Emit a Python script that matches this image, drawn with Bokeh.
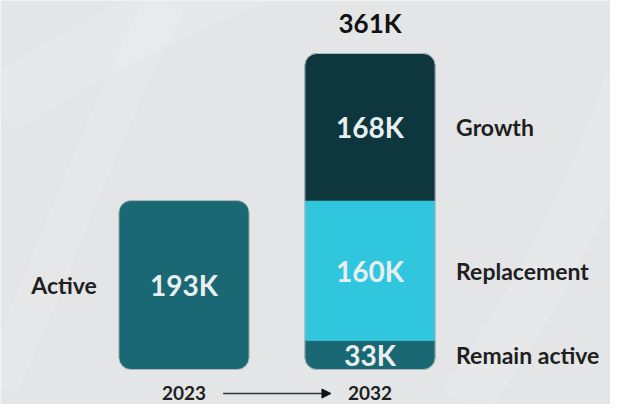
from bokeh.plotting import figure
from bokeh.models import Range1d, Arrow, NormalHead
from bokeh.core.properties import value
from bokeh.embed import file_html
from bokeh.resources import INLINE

# ---- data ----
years = ["2023", "2032"]
active_2023 = 193          # thousands
segments = ["Remain active", "Replacement", "Growth"]
segment_values = [33, 160, 168]   # thousands, 2032 stack (bottom -> top)
segment_labels = ["33K", "160K", "168K"]
active_label = "193K"
total_label = "361K"
segment_colors = ["#1a6873", "#30c6de", "#0d363d"]
active_color = "#1a6873"

FONT = value("Lato")
W, H = 610, 404
bar_w = 0.70
x1, x2 = 1.0, 2.0
px_per_x = 186.0
total = sum(segment_values)
px_per_y = 316.0 / total

x_start = x1 - 183.5 / px_per_x
y_start = -(H - 369.0) / px_per_y

p = figure(width=W, height=H, output_backend="svg", toolbar_location=None,
           x_range=Range1d(x_start, x_start + W / px_per_x),
           y_range=Range1d(y_start, y_start + H / px_per_y),
           min_border=0)
p.axis.visible = False
p.grid.visible = False
p.outline_line_color = None
p.background_fill_color = "#e4e5e7"
p.border_fill_color = "#e4e5e7"

# subtle white swooshes in background
for (xs, ys, w, a) in [
    ([0.0, 0.6, 1.0, 1.6], [300, 380, 420, 470], 60, 0.12),
    ([0.0, 0.3, 0.5, 0.9], [-20, 120, 250, 420], 40, 0.10),
    ([2.5, 2.9, 3.2, 3.4], [-40, 80, 200, 330], 50, 0.12),
]:
    p.bezier(x0=xs[0], y0=ys[0], cx0=xs[1], cy0=ys[1], cx1=xs[2], cy1=ys[2],
             x1=xs[3], y1=ys[3], line_color="white", line_width=w, line_alpha=a)

edge = "#aab7b9"
# 2023 bar
p.vbar(x=[x1], width=bar_w, bottom=[0], top=[active_2023], fill_color=active_color,
       line_color=edge, line_width=1, border_radius=12)

# 2032 stacked bar
bottoms, tops = [], []
acc = 0
for v in segment_values:
    bottoms.append(acc)
    acc += v
    tops.append(acc)
radii = [(0, 0, 12, 12), 0, (12, 12, 0, 0)]
for i in range(len(segment_values)):
    p.vbar(x=[x2], width=bar_w, bottom=[bottoms[i]], top=[tops[i]],
           fill_color=segment_colors[i], line_color=segment_colors[i],
           line_width=0.5, border_radius=radii[i])
# outline of whole stack
p.vbar(x=[x2], width=bar_w, bottom=[0], top=[acc], fill_color=None,
       line_color=edge, line_width=1, border_radius=12)

mids = [(b + t) / 2 for b, t in zip(bottoms, tops)]
inner_col = "#e8eff0"
p.text(x=[x2] * 3, y=mids, text=segment_labels, text_font=FONT,
       text_font_style="bold", text_font_size="28px", text_color=inner_col,
       text_align="center", text_baseline="middle")
p.text(x=[x1], y=[active_2023 / 2], text=[active_label], text_font=FONT,
       text_font_style="bold", text_font_size="28px", text_color=inner_col,
       text_align="center", text_baseline="middle")

dark = "#1e1f21"
p.text(x=[x2 + bar_w / 2] * 3, y=mids, text=segments, x_offset=21,
       text_font=FONT, text_font_style="bold", text_font_size="23px",
       text_color=dark, text_align="left", text_baseline="middle")
p.text(x=[x1 - bar_w / 2], y=[active_2023 / 2], text=["Active"], x_offset=-22,
       text_font=FONT, text_font_style="bold", text_font_size="23px",
       text_color=dark, text_align="right", text_baseline="middle")

p.text(x=[x2], y=[acc], text=[total_label], y_offset=-31, text_font=FONT,
       text_font_style="bold", text_font_size="26px", text_color="#111111",
       text_align="center", text_baseline="middle")

p.text(x=[x1, x2], y=[0, 0], text=years, y_offset=23, text_font=FONT,
       text_font_style="bold", text_font_size="19px", text_color=dark,
       text_align="center", text_baseline="middle")

ya = -24.0 / px_per_y
p.add_layout(Arrow(x_start=x1 + 0.21, y_start=ya, x_end=x2 - 0.21, y_end=ya,
                   line_color="#333333", line_width=1.5,
                   end=NormalHead(size=9, fill_color="#111111", line_color="#111111")))

open("out.html", "w").write(file_html(p, INLINE))
